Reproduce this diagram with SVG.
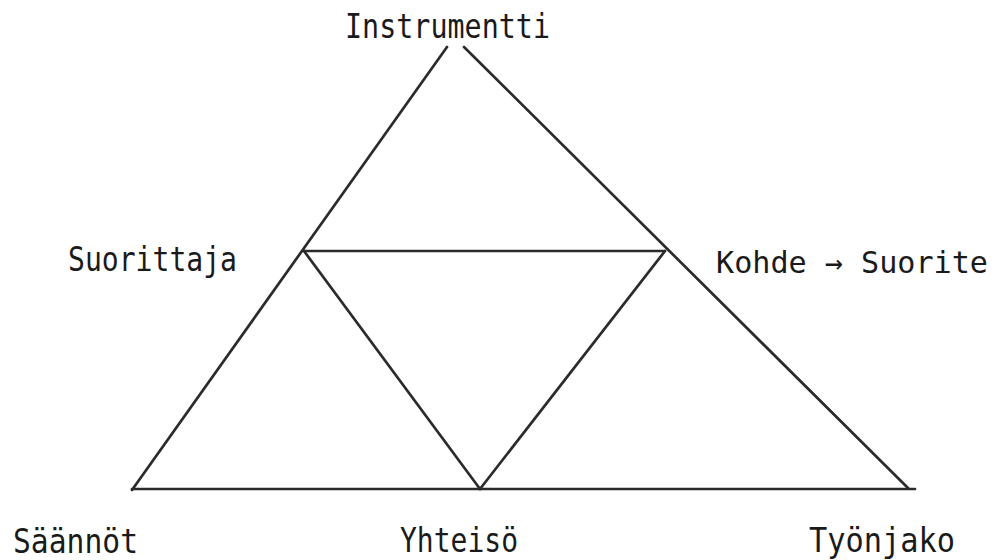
<svg xmlns="http://www.w3.org/2000/svg" width="1001" height="560" viewBox="0 0 1001 560">
<style>
.lbl{font-family:"DejaVu Sans Mono","Liberation Mono",monospace;font-size:33px;fill:#1a1a1a}
.ln{stroke:#2b2b2b;stroke-width:2.7;fill:none;stroke-linecap:round}
</style>
<rect width="1001" height="560" fill="#ffffff"/>
<g id="connectors">
<line class="ln" x1="447" y1="47" x2="132" y2="490"/>
<line class="ln" x1="464" y1="47" x2="908" y2="488"/>
<line class="ln" x1="132" y1="489" x2="915" y2="489"/>
<line class="ln" x1="304" y1="251" x2="665" y2="251"/>
<line class="ln" x1="304" y1="251" x2="480" y2="489"/>
<line class="ln" x1="665" y1="251" x2="480" y2="489"/>
</g>
<g id="instrumentti"><text class="lbl" x="345" y="38" textLength="205" lengthAdjust="spacingAndGlyphs">Instrumentti</text></g>
<g id="suorittaja"><text class="lbl" x="68" y="271" textLength="169" lengthAdjust="spacingAndGlyphs">Suorittaja</text></g>
<g id="kohde"><text class="lbl" x="716" y="273" style="font-size:31px" textLength="272" lengthAdjust="spacingAndGlyphs">Kohde → Suorite</text></g>
<g id="saannot"><text class="lbl" x="13" y="553" textLength="125" lengthAdjust="spacingAndGlyphs">Säännöt</text></g>
<g id="yhteiso"><text class="lbl" x="400" y="552" textLength="118" lengthAdjust="spacingAndGlyphs">Yhteisö</text></g>
<g id="tyonjako"><text class="lbl" x="809" y="552" textLength="146" lengthAdjust="spacingAndGlyphs">Työnjako</text></g>
</svg>
